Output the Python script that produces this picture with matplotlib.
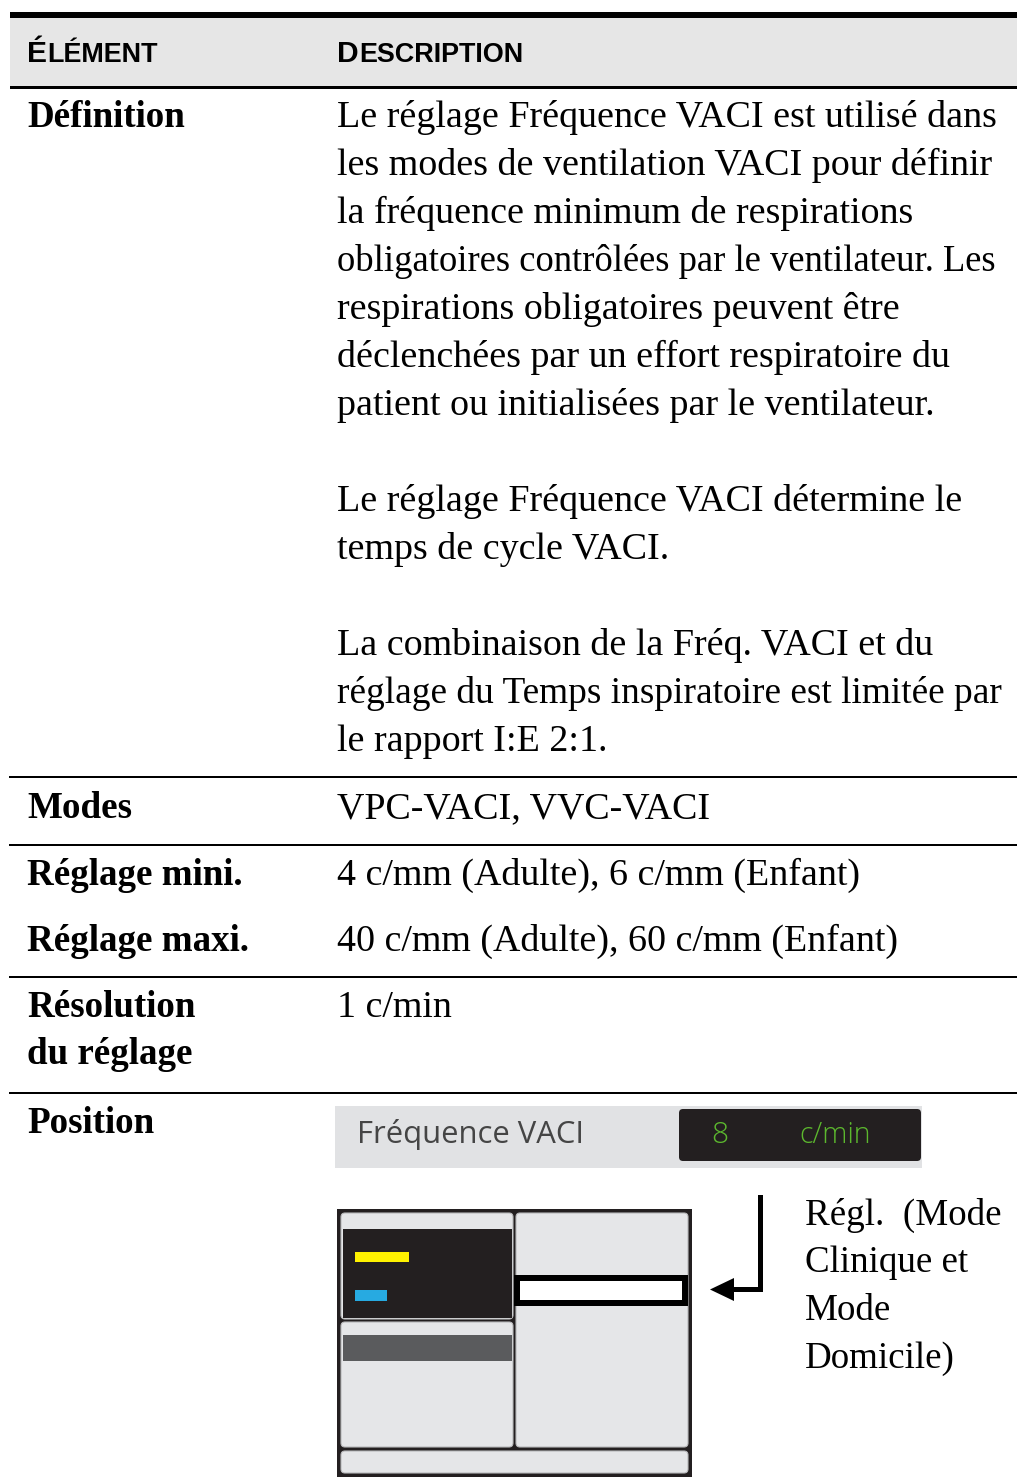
import matplotlib
matplotlib.use("Agg")
import matplotlib.pyplot as plt
from matplotlib.patches import Rectangle, FancyBboxPatch, Polygon

# ---------------- data ----------------
header_labels = ["ÉLÉMENT", "DESCRIPTION"]
row_labels = ["Définition", "Modes", "Réglage mini.", "Réglage maxi.",
              "Résolution", "du réglage", "Position"]
definition_lines = [
    "Le réglage Fréquence VACI est utilisé dans",
    "les modes de ventilation VACI pour définir",
    "la fréquence minimum de respirations",
    "obligatoires contrôlées par le ventilateur. Les",
    "respirations obligatoires peuvent être",
    "déclenchées par un effort respiratoire du",
    "patient ou initialisées par le ventilateur.",
    "",
    "Le réglage Fréquence VACI détermine le",
    "temps de cycle VACI.",
    "",
    "La combinaison de la Fréq. VACI et du",
    "réglage du Temps inspiratoire est limitée par",
    "le rapport I:E 2:1.",
]
modes_text = "VPC-VACI, VVC-VACI"
min_text = "4 c/mm (Adulte), 6 c/mm (Enfant)"
max_text = "40 c/mm (Adulte), 60 c/mm (Enfant)"
resolution_text = "1 c/min"
widget_label = "Fréquence VACI"
widget_value = "8"
widget_unit = "c/min"
side_note = ["Régl.  (Mode", "Clinique et", "Mode", "Domicile)"]

# ---------------- figure ----------------
W, H = 1017, 1483
fig = plt.figure(figsize=(W / 100, H / 100), dpi=100)
ax = fig.add_axes([0, 0, 1, 1])
ax.set_xlim(0, W)
ax.set_ylim(H, 0)
ax.axis("off")

def px(p):  # pixel size -> points (dpi 100)
    return p * 0.72

SERIF = ["Liberation Serif", "DejaVu Serif"]
HDR = ["Liberation Sans", "DejaVu Sans"]
LABEL = px(37)
BODY = px(38)
NOTE = px(37)
# tighter lines in the reference are set slightly smaller to fit the column
line_size = {3: px(36.6), 12: px(37.4)}

# header band
ax.add_patch(Rectangle((10, 18), W - 10, 68, facecolor="#e6e6e6", edgecolor="none"))
ax.add_patch(Rectangle((10, 12), W - 10, 6, facecolor="black", edgecolor="none"))
ax.add_patch(Rectangle((10, 86), W - 10, 2.5, facecolor="black", edgecolor="none"))

renderer = fig.canvas.get_renderer()

def smallcaps(x, y, word):
    t = ax.text(x, y, word[0], fontsize=px(30), family=HDR, fontweight="bold",
                va="baseline", ha="left")
    bb = t.get_window_extent(renderer=renderer)
    ax.text(x + bb.width + 0.5, y, word[1:], fontsize=px(27), family=HDR,
            fontweight="bold", va="baseline", ha="left")

smallcaps(27, 62, header_labels[0])
smallcaps(337, 62, header_labels[1])

# row separators
for yy in [777, 845, 977, 1093]:
    ax.add_patch(Rectangle((9, yy - 1), W - 9, 2.2, facecolor="black", edgecolor="none"))

def label(y, s):
    ax.text(27, y, s, fontsize=LABEL, family=SERIF, fontweight="bold",
            va="baseline", ha="left")

def body(x, y, s, size=BODY):
    ax.text(x, y, s, fontsize=size, family=SERIF, va="baseline", ha="left")

label(127, row_labels[0])
for i, line in enumerate(definition_lines):
    if line:
        body(337, 127 + 48 * i, line, size=line_size.get(i, BODY))

label(818, row_labels[1]);  body(337, 818, modes_text)
label(885, row_labels[2]);  body(337, 885, min_text)
label(951, row_labels[3]);  body(337, 951, max_text)
label(1017, row_labels[4])
label(1064, row_labels[5])
body(337, 1017, resolution_text)
label(1133, row_labels[6])

# widget
SANS = ["Open Sans", "DejaVu Sans"]
ax.add_patch(Rectangle((335, 1106), 587, 62, facecolor="#e1e2e4", edgecolor="none"))
ax.add_patch(FancyBboxPatch((679, 1109), 242, 52, boxstyle="round,pad=0,rounding_size=4",
                            facecolor="#231f20", edgecolor="none"))
ax.text(357, 1135, widget_label, fontsize=px(31), family=SANS,
        color="#454545", va="center", ha="left")
ax.text(711, 1135, widget_value, fontsize=px(30), family=SANS, fontweight="light",
        color="#5cb82e", va="center", ha="left")
ax.text(799, 1135, widget_unit, fontsize=px(28.5), family=SANS, fontweight="light",
        color="#5cb82e", va="center", ha="left")

# screen diagram
DARK = "#231f20"
PANEL = "#e5e6e8"
ax.add_patch(Rectangle((337, 1209), 355, 268, facecolor=DARK, edgecolor="none"))

def panel(x0, y0, x1, y1):
    ax.add_patch(FancyBboxPatch((x0, y0), x1 - x0, y1 - y0,
                                boxstyle="round,pad=0,rounding_size=4",
                                facecolor=PANEL, edgecolor="#b8b8ba", linewidth=0.8))

panel(341, 1213, 513, 1319)
ax.add_patch(Rectangle((343, 1229), 169, 89, facecolor=DARK, edgecolor="none"))
ax.add_patch(Rectangle((355, 1252), 54, 10, facecolor="#fff200", edgecolor="none"))
ax.add_patch(Rectangle((355, 1290), 32, 11, facecolor="#27aae1", edgecolor="none"))
panel(341, 1322, 513, 1447)
ax.add_patch(Rectangle((343, 1335), 169, 26, facecolor="#5a5b5d", edgecolor="none"))
panel(516, 1213, 688, 1447)
ax.add_patch(Rectangle((514, 1275), 174, 31, facecolor="black", edgecolor="none"))
ax.add_patch(Rectangle((520, 1281), 162, 19, facecolor="white", edgecolor="none"))
panel(341, 1451, 688, 1473)

# arrow
ax.add_patch(Rectangle((758, 1195), 5, 97, facecolor="black", edgecolor="none"))
ax.add_patch(Rectangle((728, 1287), 35, 5, facecolor="black", edgecolor="none"))
ax.add_patch(Polygon([(710, 1289.5), (734, 1278), (734, 1301)], closed=True,
                     facecolor="black", edgecolor="none"))

for i, s in enumerate(side_note):
    body(805, 1225 + 47.5 * i, s, size=NOTE)

fig.savefig("out.png", dpi=100)
